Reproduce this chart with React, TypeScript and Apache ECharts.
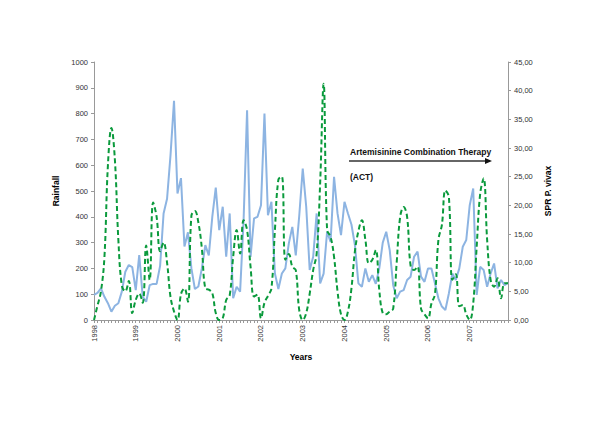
import React, { useEffect, useRef } from "react";
import * as echarts from "echarts";

const years = [1998, 1999, 2000, 2001, 2002, 2003, 2004, 2005, 2006, 2007];

// Monthly rainfall (left axis)
const rainfall = [
  97, 105, 123, 90, 65, 32, 55, 65, 110, 187, 213, 205,
  116, 252, 90, 71, 135, 140, 140, 210, 413, 470, 640, 850,
  490, 550, 285, 340, 200, 120, 130, 200, 290, 250, 400, 513,
  348, 439, 245, 413, 84, 129, 110, 387, 813, 245, 394, 400,
  445, 800, 406, 458, 180, 120, 180, 200, 297, 361, 250, 405,
  587, 439, 194, 245, 413, 142, 180, 342, 303, 555, 413, 329,
  458, 413, 370, 290, 142, 129, 200, 148, 174, 140, 200, 300,
  342, 271, 135, 84, 110, 116, 155, 168, 245, 265, 168, 148,
  200, 200, 142, 84, 52, 39, 103, 180, 155, 200, 284, 310,
  445, 510, 97, 206, 194, 129, 180, 219, 123, 155, 135, 145,
];

// Monthly SPR P. vivax (right axis)
const sprVivax = [
  0, 2.5, 5, 11, 27, 33.5, 28, 14, 6, 5, 6.8, 1.2,
  3.5, 4.6, 3, 13, 7, 20.5, 18, 12, 13.5, 10, 4, 1.5,
  0, 4.5, 5.5, 3.2, 18.2, 19, 17, 12.5, 5.5, 5.3, 4.7, 1.2,
  0, 0.3, 3.5, 4.3, 11, 15.7, 11.6, 17.4, 15.7, 9.3, 4.1, 4.4,
  0.3, 3, 4.2, 5.5, 15.7, 24.5, 25, 10.5, 11.5, 9.3, 8.7, 1.7,
  0, 1.2, 4.6, 8.7, 11.6, 23.8, 41.2, 15.7, 14.5, 11, 5, 1,
  0, 1.5, 5.5, 12, 15.5, 17.4, 14, 9.9, 10.5, 12.2, 5.2, 1.2,
  1, 1.5, 2, 10, 18, 19.7, 18, 9.5, 8.7, 9.3, 2, 1,
  0.3, 2.9, 4.5, 14, 16.6, 22.6, 21.5, 7, 8, 2.4, 2.6, 1,
  0, 2.9, 12.8, 22, 24.7, 14, 7, 5.8, 7.3, 3.8, 6.4, 6.4,
];

const rainMax = 1000;
const rainInterval = 100;
const sprMax = 45;
const sprInterval = 5;

const categories: string[] = [];
years.forEach((y) => {
  for (let m = 1; m <= 12; m++) categories.push(`${y}-${m}`);
});

export default function App() {
  const ref = useRef<HTMLDivElement>(null);
  useEffect(() => {
    if (!ref.current) return;
    const chart = echarts.init(ref.current, null, { renderer: "svg" });
    const font = "Liberation Sans, Arial, sans-serif";
    const nameStyle = { fontWeight: "bold", fontSize: 8.5, color: "#000", fontFamily: font };
    chart.setOption({
      animation: false,
      textStyle: { fontFamily: font },
      grid: { left: 94, right: 92, top: 62, bottom: 104, containLabel: false },
      xAxis: {
        type: "category",
        data: categories,
        boundaryGap: false,
        name: "Years",
        nameLocation: "middle",
        nameGap: 32,
        nameTextStyle: nameStyle,
        axisLine: { lineStyle: { color: "#999", width: 1 } },
        axisTick: { show: true, interval: 0, length: 3, lineStyle: { color: "#999" } },
        axisLabel: {
          interval: 11,
          rotate: 90,
          fontSize: 7.5,
          color: "#333",
          margin: 5,
          fontFamily: font,
          formatter: (v: string) => v.split("-")[0],
        },
        splitLine: { show: false },
      },
      yAxis: [
        {
          type: "value",
          min: 0,
          max: rainMax,
          interval: rainInterval,
          name: "Rainfall",
          nameLocation: "middle",
          nameRotate: 90,
          nameGap: 27,
          nameTextStyle: nameStyle,
          axisLine: { show: true, lineStyle: { color: "#999" } },
          axisTick: { show: true, length: 3, lineStyle: { color: "#999" } },
          axisLabel: {
            fontSize: 7.5,
            color: "#333",
            margin: 6,
            fontFamily: font,
            formatter: (v: number) => String(v),
          },
          splitLine: { show: false },
        },
        {
          type: "value",
          min: 0,
          max: sprMax,
          interval: sprInterval,
          position: "right",
          name: "SPR P. vivax",
          nameLocation: "middle",
          nameRotate: 90,
          nameGap: 28,
          nameTextStyle: nameStyle,
          axisLine: { show: true, lineStyle: { color: "#999" } },
          axisTick: { show: true, length: 3, lineStyle: { color: "#999" } },
          axisLabel: {
            fontSize: 7.5,
            color: "#333",
            margin: 6,
            fontFamily: font,
            formatter: (v: number) => v.toFixed(2).replace(".", ","),
          },
          splitLine: { show: false },
        },
      ],
      series: [
        {
          name: "Rainfall",
          type: "line",
          yAxisIndex: 0,
          data: rainfall,
          symbol: "none",
          smooth: false,
          lineStyle: { color: "#8DB4E2", width: 2 },
          z: 2,
        },
        {
          name: "SPR P. vivax",
          type: "line",
          yAxisIndex: 1,
          data: sprVivax,
          symbol: "none",
          smooth: 0.4,
          lineStyle: { color: "#0A9A3C", width: 2, type: [5, 3] },
          z: 3,
        },
      ],
      graphic: [
        {
          type: "text",
          left: 350,
          top: 147,
          style: {
            text: "Artemisinine Combination Therapy",
            font: `bold 8.5px ${font}`,
            fill: "#111",
          },
        },
        {
          type: "line",
          shape: { x1: 349, y1: 161, x2: 486, y2: 161 },
          style: { stroke: "#333", lineWidth: 1.5 },
        },
        {
          type: "polygon",
          shape: { points: [[485, 158], [492, 161], [485, 164]] },
          style: { fill: "#111" },
        },
        {
          type: "text",
          left: 350,
          top: 172,
          style: { text: "(ACT)", font: `bold 8.5px ${font}`, fill: "#111" },
        },
      ],
    });
    return () => chart.dispose();
  }, []);
  return (
    <div
      ref={ref}
      style={{ position: "absolute", left: 0, top: 0, width: 600, height: 424 }}
    />
  );
}
